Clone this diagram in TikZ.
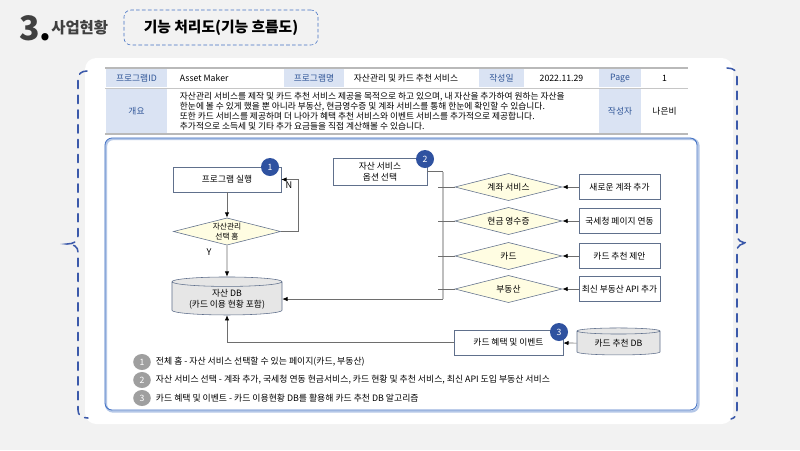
\documentclass[tikz,border=0pt]{standalone}
\usepackage{fontspec}
\setmainfont{Noto Sans CJK KR}
\usepackage{tikz}
\usetikzlibrary{shapes.geometric, arrows.meta, positioning, calc}
\definecolor{cPaper}{RGB}{242,242,242}
\definecolor{cBrace}{RGB}{59,89,170}
\definecolor{cHead}{RGB}{218,227,243}
\definecolor{cHeadTxt}{RGB}{47,85,151}
\definecolor{cBox}{RGB}{96,112,140}
\definecolor{cPanel}{RGB}{68,114,196}
\definecolor{cBadge}{RGB}{47,82,160}
\definecolor{cDia}{RGB}{255,253,226}
\definecolor{cDB}{RGB}{230,230,230}
\definecolor{cLine}{RGB}{110,110,110}
\definecolor{cBus}{RGB}{190,190,190}
\definecolor{cTitle}{RGB}{64,64,64}
\tikzset{
	process/.style  ={rectangle, draw=cBox, fill=white, minimum width=2.7cm, minimum height=0.625cm, align=center, inner sep=1pt},
	decision/.style ={diamond, aspect=4, draw=cBox, fill=cDia, minimum width=2.68cm, minimum height=0.68cm, inner sep=0pt, align=center},
	store/.style    ={cylinder, shape border rotate=90, aspect=0.12, draw=cBox, fill=cDB, align=center, inner sep=1pt},
	badge/.style    ={circle, fill=cBadge, text=white, minimum size=0.45cm, inner sep=0pt},
	legnum/.style   ={ellipse, fill=gray!75, text=white, minimum width=0.44cm, minimum height=0.4cm, inner sep=0pt},
	flowarrow/.style={-{Latex[length=1.3mm, width=1.1mm, color=black]}, cLine, line width=0.5pt},
	stub/.style     ={cLine, line width=0.5pt},
	% table styles
	hcell/.style    ={text=cHeadTxt},
	sidebrace/.style={cBrace, line width=1.1pt, dash pattern=on 0.21cm off 0.16cm, line cap=round},
}
\begin{document}
\begin{tikzpicture}[x=0.025cm, y=-0.025cm, every node/.style={font=\fontsize{6.2}{7.5}\selectfont}]
	\fill[cPaper] (0,0) rectangle (800,450);
	\fill[white, rounded corners=8pt] (85,58) rectangle (733,424);
	\useasboundingbox (0,0) rectangle (800,450);
	% heading
	\node[anchor=base west, text=cTitle, font=\fontsize{24}{24}\selectfont\bfseries, inner sep=0pt] (num) at (19,40) {3\textcolor{black}{.}};
	\node[anchor=base west, text=cTitle, font=\fontsize{11}{11}\selectfont\bfseries, inner sep=0pt] (sec) at (51,33) {사업현황};
	\node[draw=cPanel, dash pattern=on 2.6pt off 1.6pt, rounded corners=5pt, minimum width=4.85cm, minimum height=0.875cm, font=\fontsize{10.5}{11}\selectfont\bfseries] (ttl) at (221,27.5) {기능 처리도(기능 흐름도)};
	% braces
	\draw[sidebrace] (87,71) .. controls (81,71) and (78,74) .. (78,80) -- (78,236) .. controls (78,241) and (74,244) .. (67,244) .. controls (74,244) and (78,247) .. (78,252) -- (78,410) .. controls (78,415) and (81,418) .. (88,418);
	\draw[sidebrace] (727,68) .. controls (734,68) and (737,71) .. (737,77) -- (737,235) .. controls (737,240) and (741,243) .. (748,243) .. controls (741,243) and (737,246) .. (737,251) -- (737,410) .. controls (737,415) and (735,418) .. (731,419);
	% table
	\foreach \xa/\xb/\ya/\yb in {105/168/68/88, 283/345/68/88, 478/525/68/88, 598/642/68/88, 105/168/88/134, 598/642/88/134}
		\fill[cHead] (\xa+0.6,\ya+0.6) rectangle (\xb-0.6,\yb-0.6);
	\draw[gray!55, line width=1.2pt] (105,68) -- (688,68);
	\draw[gray!45, line width=0.5pt] (105,88) -- (688,88);
	\draw[gray!55, line width=1.2pt] (105,134) -- (688,134);
	\node[hcell] (hid) at (136.5,78) {프로그램ID};
	\node[anchor=west] (pid) at (175,78) {Asset Maker};
	\node[hcell] (hname) at (314,78) {프로그램명};
	\node[anchor=west] (pname) at (349,78) {자산관리 및 카드 추천 서비스};
	\node[hcell] (hdate) at (501.5,78) {작성일};
	\node (date) at (561.5,78) {2022.11.29};
	\node[hcell] (hpage) at (620,78) {Page};
	\node (page) at (664.5,78) {1};
	\node[hcell] (hsum) at (136.5,111) {개요};
	\node[anchor=west, align=left, font=\fontsize{6.2}{7.1}\selectfont] (summ) at (175,111.5) {자산관리 서비스를 제작 및 카드 추천 서비스 제공을 목적으로 하고 있으며, 내 자산을 추가하여 원하는 자산을\\한눈에 볼 수 있게 했을 뿐 아니라 부동산, 현금영수증 및 계좌 서비스를 통해 한눈에 확인할 수 있습니다.\\또한 카드 서비스를 제공하며 더 나아가 혜택 추천 서비스와 이벤트 서비스를 추가적으로 제공합니다.\\추가적으로 소득세 및 기타 추가 요금들을 직접 계산해볼 수 있습니다.};
	\node[hcell] (hauth) at (620,111) {작성자};
	\node (auth) at (664.5,111) {나은비};
	% flow panel
	\draw[cPanel!40, line width=1.6pt, rounded corners=5pt] (106,139) rectangle (698.5,411.5);
	\draw[cPanel, line width=0.6pt, rounded corners=5pt] (105,138) rectangle (697,410);
	\node[process] (run) at (227,179.5) {프로그램 실행};
	\node[badge] (n1) at (270,167) {1};
	\node[decision, font=\fontsize{5.5}{6.8}\selectfont] (sel) at (227,231.5) {자산관리\\선택 홈};
	\node[store, minimum width=2.75cm, minimum height=0.95cm] (adb) at (227,299) {자산 DB\\(카드 이용 현황 포함)};
	\draw[flowarrow] (run) -- (sel);
	\draw[flowarrow] (sel.east) -- ++(17,0) |- (run.east);
	\draw[flowarrow] (sel) -- (adb);
	\node[font=\fontsize{6.5}{7}\selectfont] (ln) at (289,185) {N};
	\node[font=\fontsize{6.5}{7}\selectfont] (ly) at (209,252) {Y};
	\node[process, minimum width=2.35cm, minimum height=0.675cm] (opt) at (380,171.5) {자산 서비스\\옵션 선택};
	\node[badge] (n2) at (425,159) {2};
	\coordinate (bus) at (443,172);
	\coordinate (busx) at (438,200);
	\draw[stub] (opt.east) -- (opt.east -| bus);
	\draw[cBus, line width=1.3pt] (bus) -- (bus |- adb.east);
	\draw[flowarrow] (bus |- adb.east) -- (adb.east);
	\foreach \i/\y/\lbl/\act in {1/187/계좌 서비스/새로운 계좌 추가, 2/221/현금 영수증/국세청 페이지 연동, 3/256/카드/카드 추천 제안, 4/289/부동산/최신 부동산 API 추가} {
		\node[decision] (d\i) at (508.5,\y) {\lbl};
		\node[process, minimum width=2.03cm] (b\i) at (619.5,\y) {\act};
		\draw[flowarrow] (b\i) -- (d\i);
		\draw[stub] (d\i.west) -- (d\i.west -| busx);
	}
	\node[process, minimum width=2.725cm] (cev) at (508.5,342.5) {카드 혜택 및 이벤트};
	\node[badge] (n3) at (559,332) {3};
	\node[store, minimum width=2.075cm, minimum height=0.675cm] (cdb) at (618.5,343.5) {카드 추천 DB};
	\draw[flowarrow] (cdb) -- (cev);
	\draw[flowarrow] (cev.west) -| (adb.south);
	% legend
	\foreach \i/\y/\txt in {1/362/{전체 홈 - 자산 서비스 선택할 수 있는 페이지(카드, 부동산)}, 2/380/{자산 서비스 선택 - 계좌 추가, 국세청 연동 현금서비스, 카드 현황 및 추천 서비스, 최신 API 도입 부동산 서비스}, 3/398/{카드 혜택 및 이벤트 - 카드 이용현황 DB를 활용해 카드 추천 DB 알고리즘}} {
		\node[legnum] (lg\i) at (142,\y) {\i};
		\node[anchor=west, font=\fontsize{6.3}{7}\selectfont] (lt\i) at (151,\y) {\txt};
	}
\end{tikzpicture}
\end{document}
